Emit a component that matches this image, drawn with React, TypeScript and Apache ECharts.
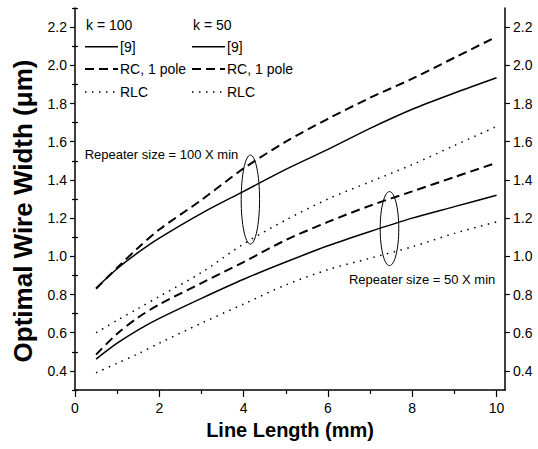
import React, { useEffect, useRef } from "react";
import * as echarts from "echarts";

// Line length (mm)
const lengths = [0.5, 1, 1.5, 2, 3, 4, 5, 6, 7, 8, 9, 10];
// k = 100
const k100Ref9 = [0.834, 0.935, 1.02, 1.095, 1.225, 1.34, 1.455, 1.56, 1.67, 1.77, 1.855, 1.935];
const k100RC = [0.83, 0.94, 1.045, 1.14, 1.295, 1.46, 1.6, 1.72, 1.83, 1.93, 2.04, 2.15];
const k100RLC = [0.6, 0.665, 0.727, 0.79, 0.915, 1.065, 1.19, 1.3, 1.39, 1.48, 1.58, 1.68];
// k = 50
const k50Ref9 = [0.462, 0.545, 0.615, 0.675, 0.78, 0.88, 0.97, 1.055, 1.13, 1.2, 1.26, 1.32];
const k50RC = [0.485, 0.595, 0.68, 0.748, 0.86, 0.97, 1.085, 1.18, 1.265, 1.34, 1.415, 1.49];
const k50RLC = [0.39, 0.44, 0.49, 0.545, 0.65, 0.75, 0.85, 0.93, 0.99, 1.05, 1.12, 1.18];

// Axis ticks
const xMajor = [0, 2, 4, 6, 8, 10];
const xMinor = [1, 3, 5, 7, 9];
const yMajor = [0.4, 0.6, 0.8, 1.0, 1.2, 1.4, 1.6, 1.8, 2.0, 2.2];
const yMinor = [0.3, 0.5, 0.7, 0.9, 1.1, 1.3, 1.5, 1.7, 1.9, 2.1, 2.3];

// Titles / legend / annotation texts
const xTitle = "Line Length (mm)";
const yTitle = "Optimal Wire Width (\u03bcm)";
const legendHeaders = ["k = 100", "k = 50"];
const legendNames = ["[9]", "RC, 1 pole", "RLC"];
const note100 = "Repeater size = 100 X min";
const note50 = "Repeater size = 50 X min";

const FONT = "'Liberation Sans', Arial, Helvetica, sans-serif";
const SOLID = "solid";
const DASH = [9, 5];
const DOT = [1.5, 5.5];
const styles = [SOLID, DASH, DOT];

const pair = (ys: number[]) => lengths.map((x, i) => [x, ys[i]]);

export default function App() {
  const ref = useRef<HTMLDivElement>(null);
  useEffect(() => {
    const chart = echarts.init(ref.current!, null, { renderer: "svg" });
    const axisLine = { show: true, onZero: false, lineStyle: { color: "#000", width: 1.5 } };
    const labelStyle = { color: "#000", fontSize: 14, fontFamily: FONT };
    const mkY = (pos: "left" | "right", major: boolean) => ({
      type: "value",
      position: pos,
      min: 0.3,
      max: 2.3,
      splitLine: { show: false },
      axisLine: major ? axisLine : { show: false },
      axisTick: {
        show: true,
        customValues: major ? yMajor : yMinor,
        length: major ? 5 : 3,
        lineStyle: { color: "#000", width: 1.2 },
      },
      axisLabel: major
        ? { show: true, customValues: yMajor, formatter: (v: number) => v.toFixed(1), margin: 8, ...labelStyle }
        : { show: false },
    });
    const mkX = (major: boolean) => ({
      type: "value",
      position: "bottom",
      min: 0,
      max: 10.2,
      splitLine: { show: false },
      axisLine: major ? axisLine : { show: false },
      axisTick: {
        show: true,
        customValues: major ? xMajor : xMinor,
        length: major ? 7 : 4,
        lineStyle: { color: "#000", width: 1.2 },
      },
      axisLabel: major ? { show: true, customValues: xMajor, margin: 11, ...labelStyle } : { show: false },
      ...(major
        ? {
            name: xTitle,
            nameLocation: "middle",
            nameGap: 30,
            nameTextStyle: { color: "#000", fontSize: 20, fontWeight: "bold", fontFamily: FONT },
          }
        : {}),
    });
    const mkSeries = (name: string, ys: number[], type: any, w: number) => ({
      name,
      type: "line",
      data: pair(ys),
      smooth: 0.3,
      showSymbol: false,
      symbol: "none",
      xAxisIndex: 0,
      yAxisIndex: 0,
      lineStyle: { color: "#000", width: w, type },
    });
    chart.setOption({
      animation: false,
      backgroundColor: "#fff",
      grid: { left: 75, right: 33, top: 8, bottom: 59, containLabel: false },
      xAxis: [mkX(true), mkX(false)],
      yAxis: [mkY("left", true), mkY("left", false), mkY("right", true), mkY("right", false)],
      series: [
        mkSeries("k100 [9]", k100Ref9, SOLID, 1.5),
        mkSeries("k100 RC", k100RC, DASH, 2),
        mkSeries("k100 RLC", k100RLC, DOT, 1.5),
        mkSeries("k50 [9]", k50Ref9, SOLID, 1.5),
        mkSeries("k50 RC", k50RC, DASH, 2),
        mkSeries("k50 RLC", k50RLC, DOT, 1.5),
      ],
    });

    const px = (x: number, y: number) => chart.convertToPixel({ xAxisIndex: 0, yAxisIndex: 0 }, [x, y]) as number[];
    const e1 = px(4.16, 1.297);
    const e2 = px(7.46, 1.145);
    const t1 = px(0.23, 1.534);
    const t2 = px(9.97, 0.878);

    const graphics: any[] = [];
    // y-axis title
    graphics.push({
      type: "text",
      x: 23,
      y: 211,
      rotation: Math.PI / 2,
      style: {
        text: yTitle,
        fill: "#000",
        font: `bold 26px ${FONT}`,
        align: "center",
        verticalAlign: "middle",
      },
    });
    const colX = [85, 192];
    const rowY = [25, 46.7, 69, 92];
    colX.forEach((cx, c) => {
      graphics.push({
        type: "text",
        x: cx + 1,
        y: rowY[0],
        style: { text: legendHeaders[c], fill: "#000", font: `14px ${FONT}`, verticalAlign: "middle" },
      });
      legendNames.forEach((n, r) => {
        graphics.push({
          type: "line",
          shape: { x1: cx, y1: rowY[r + 1], x2: cx + 33, y2: rowY[r + 1] },
          style: { stroke: "#000", lineWidth: r === 1 ? 2 : 1.5, lineDash: styles[r] === SOLID ? null : styles[r] },
        });
        graphics.push({
          type: "text",
          x: cx + 35,
          y: rowY[r + 1],
          style: { text: n, fill: "#000", font: `14px ${FONT}`, verticalAlign: "middle" },
        });
      });
    });
    graphics.push({
      type: "ellipse",
      shape: { cx: e1[0], cy: e1[1], rx: 9.2, ry: 44.5 },
      style: { stroke: "#000", fill: "none", lineWidth: 1 },
    });
    graphics.push({
      type: "ellipse",
      shape: { cx: e2[0], cy: e2[1], rx: 9.3, ry: 37 },
      style: { stroke: "#000", fill: "none", lineWidth: 1 },
    });
    graphics.push({
      type: "text",
      x: t1[0],
      y: t1[1],
      style: { text: note100, fill: "#000", font: `13px ${FONT}`, verticalAlign: "middle", align: "left" },
    });
    graphics.push({
      type: "text",
      x: t2[0],
      y: t2[1],
      style: { text: note50, fill: "#000", font: `13px ${FONT}`, verticalAlign: "middle", align: "right" },
    });
    chart.setOption({ graphic: graphics });

    return () => chart.dispose();
  }, []);
  return (
    <div
      ref={ref}
      style={{ position: "absolute", left: 0, top: 0, width: 538, height: 449, background: "#fff" }}
    />
  );
}
